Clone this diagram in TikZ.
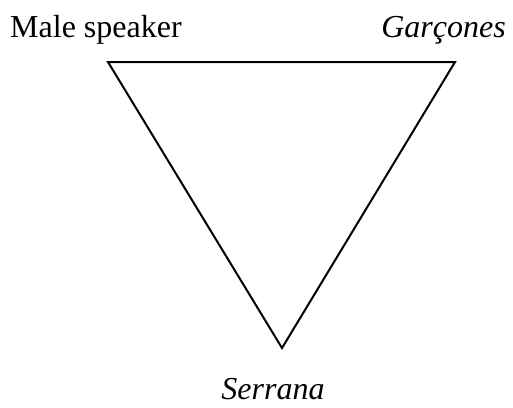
\documentclass[tikz,border=0pt]{standalone}
\usepackage{fontspec}
\setmainfont{Liberation Serif}
\begin{document}
\begin{tikzpicture}[x=1pt,y=-1pt,
  lbl/.style={inner sep=0pt,font=\fontsize{32}{38}\selectfont}]
% Marco
\useasboundingbox (0,0) rectangle (513,407);
% Vertices del triangulo
\coordinate (male) at (108,62);
\coordinate (garc) at (455,62);
\coordinate (serr) at (282,348);
% Triangulo
\draw[line width=2pt, line join=miter] (male) -- (garc) -- (serr) -- cycle;
% Etiquetas
\node[lbl, anchor=base west] (lmale) at (10,37) {Male speaker};
\node[lbl, anchor=base east] (lgarc) at (506,37) {\textit{Garçones}};
\node[lbl, anchor=base] (lserr) at (273,399) {\textit{Serrana}};
\end{tikzpicture}
\end{document}
